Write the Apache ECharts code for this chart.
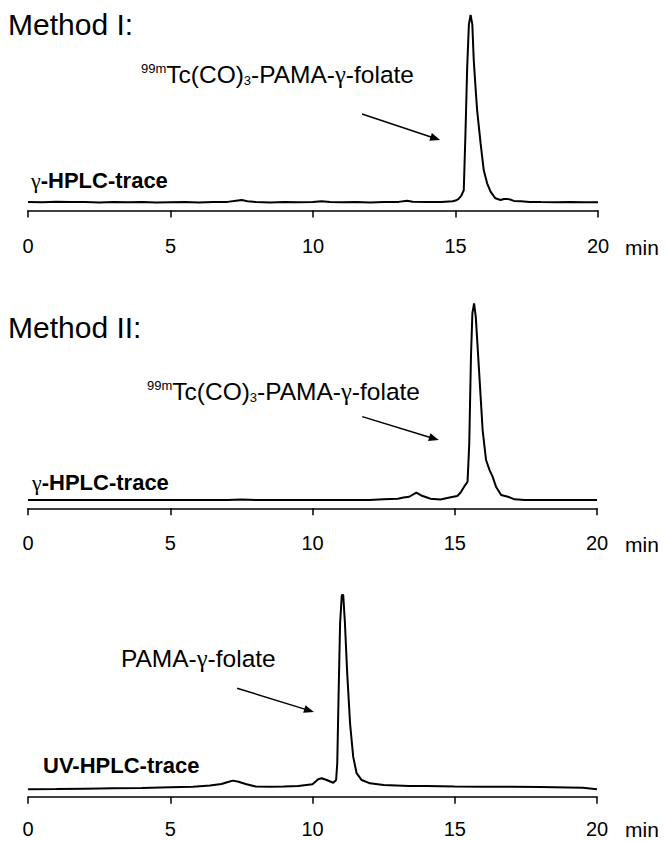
<!DOCTYPE html>
<html>
<head>
<meta charset="utf-8">
<script src="https://cdn.jsdelivr.net/npm/echarts@6/dist/echarts.min.js"></script>
<style>
html,body{margin:0;padding:0;background:#fff;}
#chart{width:666px;height:841px;}
</style>
</head>
<body>
<div id="chart"></div>
<script>
// ---- Data (retention time in min, relative signal in % of main peak) ----
const xTicks = [0, 5, 10, 15, 20];

const time1 = [0, 0.5, 1.0, 1.5, 2.0, 2.5, 3.0, 3.5, 4.0, 4.5, 5.0, 5.5, 6.0, 6.5, 7.0, 7.3, 7.5, 7.7, 8.0, 8.5, 9.0, 9.5, 10.0, 10.3, 10.6, 11.0, 11.5, 12.0, 12.5, 13.0, 13.3, 13.5, 14.0, 14.5, 14.9, 15.0, 15.1, 15.2, 15.29, 15.35, 15.41, 15.47, 15.53, 15.59, 15.64, 15.7, 15.76, 15.88, 15.99, 16.11, 16.23, 16.4, 16.58, 16.7, 16.81, 16.95, 17.05, 17.3, 17.6, 18.0, 18.5, 19.0, 19.5, 20.0];
const signal1 = [0.3, 0.1, 0.4, 0.2, 0.3, 0.0, 0.3, 0.1, 0.2, 0.0, 0.1, 0.2, 0.0, 0.2, 0.3, 0.9, 1.3, 0.6, 0.2, 0.0, 0.2, 0.1, 0.2, 0.6, 0.2, 0.1, 0.2, 0.0, 0.2, 0.3, 0.9, 0.4, 0.2, 0.3, 0.6, 1.0, 1.8, 3.5, 6.5, 37, 72, 95, 100, 95, 76, 62, 49, 31.6, 17.3, 10.2, 5.8, 2.2, 1.3, 1.8, 1.9, 1.4, 0.8, 0.6, 0.3, 0.2, 0.1, 0.2, 0.1, 0.1];

const time2 = [0, 1, 2, 3, 4, 5, 6, 7, 7.5, 8, 9, 10, 11, 12.0, 12.5, 13.0, 13.2, 13.4, 13.65, 13.85, 14.15, 14.5, 14.86, 15.09, 15.2, 15.33, 15.45, 15.51, 15.57, 15.62, 15.68, 15.74, 15.86, 15.98, 16.10, 16.22, 16.33, 16.45, 16.63, 16.87, 17.10, 17.46, 18, 19, 20];
const signal2 = [0.3, 0.3, 0.3, 0.3, 0.3, 0.3, 0.3, 0.3, 0.6, 0.3, 0.3, 0.3, 0.3, 0.4, 0.7, 1.0, 1.6, 2.0, 4.1, 2.5, 1.0, 0.6, 1.7, 2.4, 4.0, 7.1, 9.6, 29, 73, 95, 100, 93, 64.5, 35.8, 20.6, 15.6, 12.2, 7.1, 2.9, 2.0, 0.7, 0.3, 0.3, 0.3, 0.3];

const time3 = [0, 1, 2, 3, 4, 5, 5.8, 6.4, 6.8, 7.0, 7.2, 7.4, 7.65, 8.0, 8.5, 9.0, 9.5, 10.0, 10.2, 10.32, 10.5, 10.73, 10.83, 10.87, 10.92, 10.97, 11.03, 11.08, 11.14, 11.22, 11.32, 11.43, 11.55, 11.73, 12.02, 12.5, 13.4, 14, 15, 16, 17, 18, 19, 19.5, 20];
const signal3 = [0.4, 0.5, 0.7, 0.9, 1.0, 1.4, 1.7, 2.3, 3.1, 4.0, 4.8, 4.2, 3.1, 1.8, 1.6, 1.8, 2.1, 3.0, 5.5, 6.0, 5.1, 3.7, 5.1, 13.7, 51, 85.5, 100, 100, 85.5, 59.8, 34.2, 17.1, 8.6, 5.1, 3.4, 2.6, 2.1, 2.0, 1.8, 1.7, 1.7, 1.5, 1.3, 1.1, 0.4];

const methodTitles = ['Method I:', 'Method II:'];
const xUnit = 'min';
// arrows in data coordinates [start, tip] per panel
const arrows = [
  [[11.72, 47.2], [14.46, 33.3]],
  [[11.75, 42.6], [14.44, 30.7]],
  [[7.35, 52.2], [10.05, 40.0]]
];

// ---- Chart ----
const FONT = 'Liberation Sans, Arial, Helvetica, sans-serif';
const GFONT = 'Liberation Serif, Times New Roman, serif';
const chart = echarts.init(document.getElementById('chart'), null, {renderer: 'svg'});

const grids = [
  {left: 28, right: 68, top: 15, height: 195.5},
  {left: 28, right: 69, top: 303.3, height: 205},
  {left: 28, right: 69, top: 595, height: 201.7}
];
const yMins = [-4.3, -3.85, -3.44];
const labelMargins = [25, 25, 22];

function pairs(t, s) { return t.map((v, i) => [v, s[i]]); }
const seriesData = [pairs(time1, signal1), pairs(time2, signal2), pairs(time3, signal3)];

const xAxes = grids.map((g, i) => ({
  type: 'value', gridIndex: i, min: xTicks[0], max: xTicks[xTicks.length - 1], interval: 5,
  axisLine: {onZero: false, lineStyle: {color: '#000', width: 1.5}},
  axisTick: {length: 7, lineStyle: {color: '#000', width: 1.5}},
  axisLabel: {fontSize: 20, color: '#000', margin: labelMargins[i], fontFamily: FONT},
  splitLine: {show: false}
}));
const yAxes = grids.map((g, i) => ({type: 'value', gridIndex: i, min: yMins[i], max: 100, show: false}));

const series = seriesData.map((d, i) => ({
  type: 'line', xAxisIndex: i, yAxisIndex: i, data: d, showSymbol: false, silent: true,
  lineStyle: {color: '#000', width: 2}, animation: false
}));

const CS = 24.5;
const compoundRich = {
  n: {fontSize: CS, fontFamily: FONT, fill: '#000'},
  g: {fontSize: CS, fontFamily: GFONT, fill: '#000'},
  sup: {fontSize: 13, fontFamily: FONT, fill: '#000', verticalAlign: 'top'},
  sub: {fontSize: 13, fontFamily: FONT, fill: '#000', verticalAlign: 'bottom'}
};
const boldRich = {
  b: {fontSize: 22, fontFamily: FONT, fontWeight: 'bold', fill: '#000'},
  g: {fontSize: 22, fontFamily: GFONT, fill: '#000'}
};

function txt(x, y, text, size, bold) {
  return {
    type: 'text', x: x, y: y,
    style: {text: text, fontSize: size, fontFamily: FONT, fontWeight: bold ? 'bold' : 'normal', fill: '#000', verticalAlign: 'middle', align: 'left'}
  };
}
function rich(x, y, text, r) {
  return {type: 'text', x: x, y: y, style: {text: text, rich: r, verticalAlign: 'middle', align: 'left'}};
}

chart.setOption({
  animation: false,
  backgroundColor: '#fff',
  grid: grids,
  xAxis: xAxes,
  yAxis: yAxes,
  series: series
});

// arrows placed through the axes' scales
const arrowGraphics = [];
arrows.forEach((a, i) => {
  const p1 = chart.convertToPixel({gridIndex: i}, a[0]);
  const p2 = chart.convertToPixel({gridIndex: i}, a[1]);
  const dx = p2[0] - p1[0], dy = p2[1] - p1[1];
  const len = Math.sqrt(dx * dx + dy * dy);
  const ux = dx / len, uy = dy / len;
  const hl = 10, hw = 4;
  const bx = p2[0] - ux * hl, by = p2[1] - uy * hl;
  arrowGraphics.push({
    type: 'line', shape: {x1: p1[0], y1: p1[1], x2: bx + ux * 2, y2: by + uy * 2},
    style: {stroke: '#000', lineWidth: 1.5}
  });
  arrowGraphics.push({
    type: 'polygon',
    shape: {points: [[p2[0], p2[1]], [bx - uy * hw, by + ux * hw], [bx + uy * hw, by - ux * hw]]},
    style: {fill: '#000'}
  });
});

const graphics = [
  txt(8, 24, methodTitles[0], 30, false),
  txt(8, 327, methodTitles[1], 30, false),
  rich(141, 74, '{sup|99m}{n|Tc(CO)}{sub|3}{n|-PAMA-}{g|γ}{n|-folate}', compoundRich),
  rich(147, 391, '{sup|99m}{n|Tc(CO)}{sub|3}{n|-PAMA-}{g|γ}{n|-folate}', compoundRich),
  rich(121, 658, '{n|PAMA-}{g|γ}{n|-folate}', compoundRich),
  rich(31, 180, '{g|γ}{b|-HPLC-trace}', boldRich),
  rich(32, 482, '{g|γ}{b|-HPLC-trace}', boldRich),
  rich(43, 765, '{b|UV-HPLC-trace}', boldRich),
  txt(625, 247, xUnit, 21, false),
  txt(625, 544, xUnit, 21, false),
  txt(625, 829, xUnit, 21, false)
].concat(arrowGraphics);

chart.setOption({graphic: graphics});
</script>
</body>
</html>
